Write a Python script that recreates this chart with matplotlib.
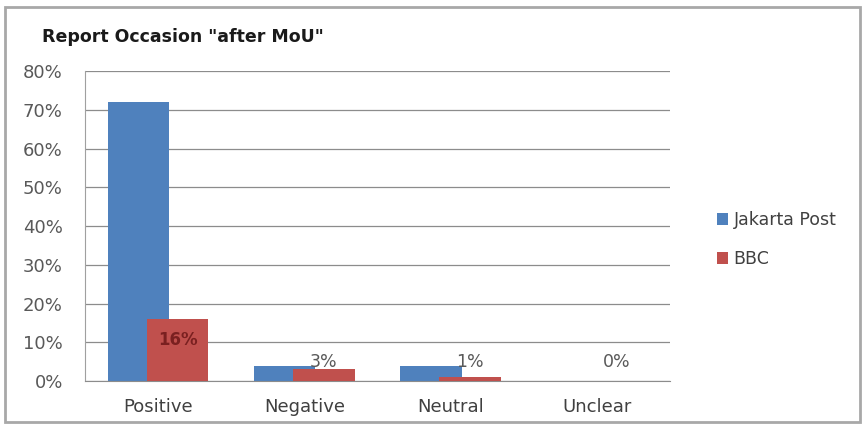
import matplotlib.pyplot as plt
import numpy as np
from matplotlib.patches import Rectangle

categories = ['Positive', 'Negative', 'Neutral', 'Unclear']
jakarta_post = [72, 4, 4, 0]
bbc = [16, 3, 1, 0]
yticks = [0, 10, 20, 30, 40, 50, 60, 70, 80]

plt.rcParams['font.family'] = ['DejaVu Sans']

fig = plt.figure(figsize=(8.64, 4.26), dpi=100)
ax = fig.add_axes([0.0984, 0.1056, 0.677, 0.7277])

x = np.arange(len(categories))
width = 0.42
off = 0.134
ax.bar(x - off, jakarta_post, width, color='#4F81BD', label='Jakarta Post', zorder=2)
ax.bar(x + off, bbc, width, color='#C0504D', label='BBC', zorder=3)

# BBC values only
for xi, v in zip(x, bbc):
    if v >= 10:
        ax.text(xi + off, v - 5.5, '{}%'.format(v), ha='center', va='center',
                fontsize=12, color='#7a2020', fontweight='bold', zorder=4)
    else:
        ax.text(xi + off, v + (4.8 - v), '{}%'.format(v), ha='center', va='center',
                fontsize=12.5, color='#595959', zorder=4)

ax.set_xlim(-0.5, 3.5)
ax.set_ylim(0, 80)
ax.set_yticks(yticks)
ax.set_yticklabels(['{}%'.format(t) for t in yticks], fontsize=13, color='#595959')
ax.set_xticks(x)
ax.set_xticklabels(categories, fontsize=13, color='#404040')
ax.tick_params(axis='y', length=0, pad=16)
ax.tick_params(axis='x', length=0, pad=12)
ax.grid(axis='y', color='#8c8c8c', linewidth=0.9)
ax.set_axisbelow(True)
for s in ['top', 'right']:
    ax.spines[s].set_visible(False)
ax.spines['left'].set_color('#a0a0a0')
ax.spines['bottom'].set_color('#8c8c8c')

fig.text(0.049, 0.913, 'Report Occasion "after MoU"', fontsize=12.5, fontweight='bold',
         color='#1a1a1a', va='center')

fig.legend(loc='center left', bbox_to_anchor=(0.812, 0.438), frameon=False,
           fontsize=12.5, handlelength=0.65, handleheight=0.65, handletextpad=0.3,
           labelspacing=1.2, labelcolor='#404040')

fig.patches.append(Rectangle((5 / 864, 4 / 426), 855 / 864, 415 / 426, transform=fig.transFigure,
                             fill=False, edgecolor='#a8a8a8', linewidth=2))

plt.savefig('out.png', dpi=100)
